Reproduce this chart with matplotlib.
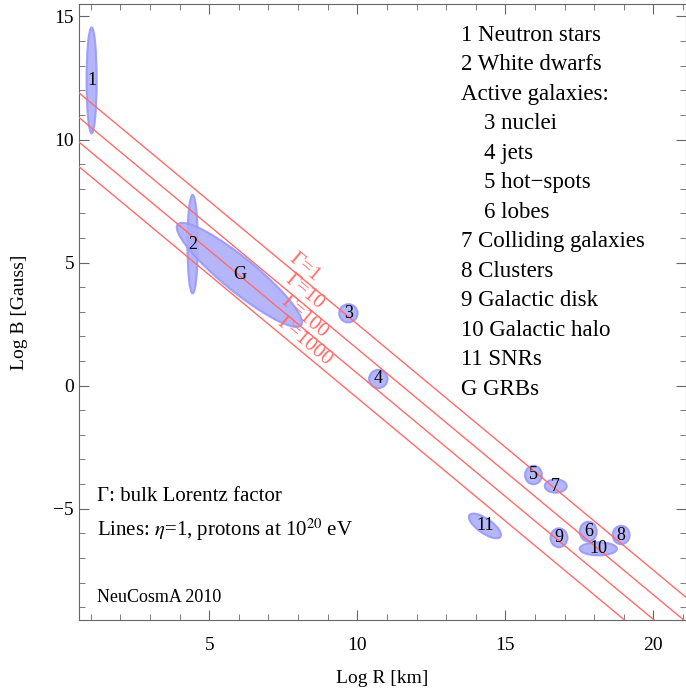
import numpy as np
import matplotlib
matplotlib.use('Agg')
import matplotlib.pyplot as plt
from matplotlib.patches import Ellipse

plt.rcParams['font.family'] = ['Liberation Serif', 'DejaVu Serif']
plt.rcParams['mathtext.fontset'] = 'stix'

# objects: label, centre (log R, log B), full widths, angle in data coords
obj_labels = ['1', '2', 'G', '3', '4', '5', '7', '11', '9', '6', '10', '8']
obj_x = [1.03, 4.44, 6.02, 9.70, 10.71, 15.95, 16.70, 14.31, 16.81, 17.80, 18.14, 18.91]
obj_y = [12.4, 5.75, 4.50, 2.94, 0.27, -3.63, -4.08, -5.70, -6.18, -5.93, -6.63, -6.07]
obj_w = [0.34, 0.35, 5.85, 0.62, 0.62, 0.57, 0.74, 1.37, 0.57, 0.57, 1.26, 0.57]
obj_h = [4.3, 4.0, 1.25, 0.74, 0.74, 0.75, 0.54, 0.55, 0.77, 0.80, 0.53, 0.75]
obj_angle = [0, 0, -45, 0, 0, 0, 0, -42, 0, 0, 0, 0]

# Hillas lines: log B = c - log R
gammas = ['1', '10', '100', '1000']
intercepts = [12.5, 11.5, 10.5, 9.5]

legend_items = ['1 Neutron stars', '2 White dwarfs', 'Active galaxies:',
                '3 nuclei', '4 jets', '5 hot\u2212spots', '6 lobes',
                '7 Colliding galaxies', '8 Clusters', '9 Galactic disk',
                '10 Galactic halo', '11 SNRs', 'G GRBs']
legend_indent = [0, 0, 0, 1, 1, 1, 1, 0, 0, 0, 0, 0, 0]

xlim = (0.6, 21.1)
ylim = (-9.52, 15.5)

fig = plt.figure(figsize=(6.86, 6.95), dpi=100)
ax = fig.add_axes([0.115, 0.108, 0.885, 0.886])
ax.set_xlim(*xlim)
ax.set_ylim(*ylim)

for lab, x, y, w, h, a in zip(obj_labels, obj_x, obj_y, obj_w, obj_h, obj_angle):
    e = Ellipse((x, y), w, h, angle=a, facecolor=(0.68, 0.68, 0.98),
                edgecolor=(0.6, 0.6, 0.98), lw=1.5, alpha=0.9, zorder=2)
    ax.add_patch(e)
    ax.text(x, y, lab, fontsize=13, ha='center', va='center', zorder=4)

xs = np.array(xlim)
for g, c in zip(gammas, intercepts):
    ax.plot(xs, c - xs, color=(1.0, 0.42, 0.42), lw=1.0, zorder=3)

# rotation of a slope -1 line in screen space
fig.canvas.draw()
p0 = ax.transData.transform((0, 0))
p1 = ax.transData.transform((1, -1))
ang = np.degrees(np.arctan2(p1[1] - p0[1], p1[0] - p0[0]))

gx = 8.2
for g, c in zip(gammas, intercepts):
    ax.text(gx, c - gx + 0.5, '\u0393=' + g, color=(1.0, 0.42, 0.42),
            fontsize=15, rotation=ang, rotation_mode='anchor',
            ha='center', va='center', zorder=4)

# legend list
lx = 0.629
ly0 = 0.9495
dy = 29.5 / 695 / 0.886
for i, (t, ind) in enumerate(zip(legend_items, legend_indent)):
    ax.text(lx + ind * 0.038, ly0 - i * dy, t, transform=ax.transAxes,
            fontsize=16.5, ha='left', va='center')

ax.text(0.030, 0.201, '\u0393: bulk Lorentz factor', transform=ax.transAxes,
        fontsize=15, ha='left', va='center')
ax.text(0.030, 0.146, r'Lines: $\eta$=1, protons at 10$^{20}$ eV',
        transform=ax.transAxes, fontsize=15, ha='left', va='center')
ax.text(0.030, 0.036, 'NeuCosmA 2010', transform=ax.transAxes,
        fontsize=13, ha='left', va='center')

ax.set_xticks([5, 10, 15, 20])
ax.set_yticks([-5, 0, 5, 10, 15])
ax.set_xticks(np.arange(1, 22), minor=True)
ax.set_yticks(np.arange(-9, 16), minor=True)
ax.tick_params(which='both', direction='in', top=True, right=True,
               labelsize=14, color='0.4')
ax.tick_params(which='major', length=7)
ax.tick_params(which='minor', length=4)
ax.tick_params(axis='x', pad=12)
for s in ax.spines.values():
    s.set_color('0.4')

ax.set_xlabel('Log R [km]', fontsize=14, labelpad=12)
ax.set_ylabel('Log B [Gauss]', fontsize=14, labelpad=18)

fig.savefig('out.png', dpi=100)
